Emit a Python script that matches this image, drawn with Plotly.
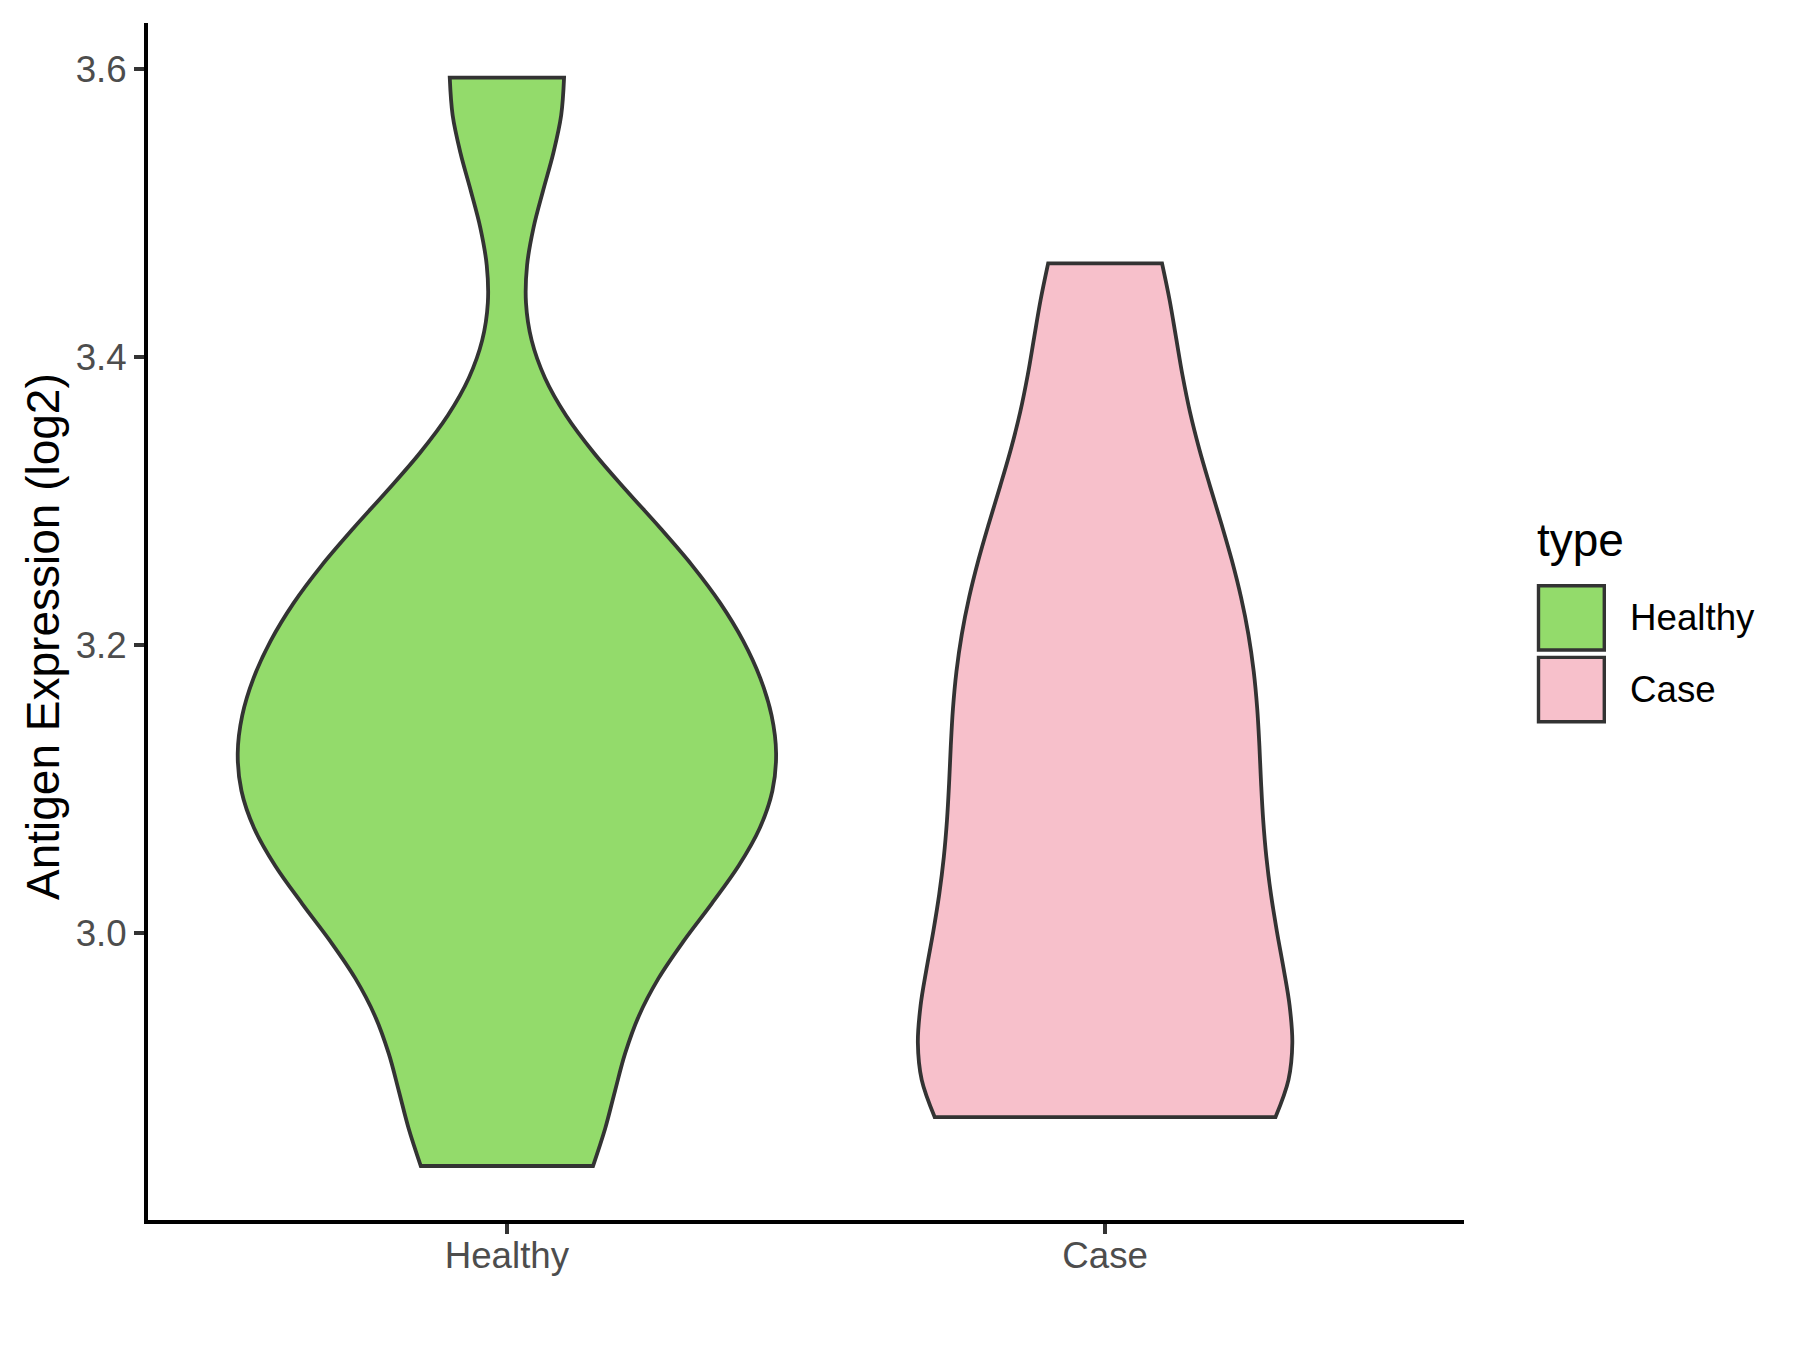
import plotly.graph_objects as go

categories = ["Healthy", "Case"]
healthy_values = [2.838, 2.864, 2.892, 3.004, 3.028, 3.03, 3.06, 3.094, 3.104, 3.11, 3.116,
                  3.146, 3.188, 3.206, 3.206, 3.258, 3.26, 3.286, 3.594, 3.594]
case_values = [2.872, 2.872, 2.872, 2.872, 2.878, 2.92, 2.982, 3.002, 3.014, 3.042, 3.106,
               3.114, 3.16, 3.186, 3.202, 3.264, 3.286, 3.326, 3.434, 3.465]
y_tick_vals = [3.0, 3.2, 3.4, 3.6]
y_tick_text = ["3.0", "3.2", "3.4", "3.6"]
legend_title = "type"
y_title = "Antigen Expression (log2)"

colors = {"Healthy": "#93DB6B", "Case": "#F7C0CB"}
widths = {"Healthy": 0.9, "Case": 0.626}
bandwidth = 0.08
FONT = "Liberation Sans, Arial, sans-serif"

OFF = 8  # default page body margin
W, H = 1800 - OFF, 1350 - OFF
L, T = 148 - OFF, 23 - OFF
R, B = 336, 130
PW, PH = W - L - R, H - T - B

def px(xpage):
    return (xpage - OFF - L) / PW

def py(ypage):
    return (H - B - (ypage - OFF)) / PH

fig = go.Figure()
for cat, vals in zip(categories, [healthy_values, case_values]):
    fig.add_trace(go.Violin(
        x=[cat] * len(vals), y=vals, name=cat, bandwidth=bandwidth, spanmode="hard",
        width=widths[cat], fillcolor=colors[cat], line=dict(color="#333333", width=3.8),
        points=False, opacity=1, hoverinfo="skip", showlegend=False,
        box_visible=False, meanline_visible=False))

shapes = []
annotations = []
# y axis title
annotations.append(dict(x=px(43), y=py(637), xref="paper", yref="paper", text=y_title,
                        textangle=-90, showarrow=False, xanchor="center", yanchor="middle",
                        font=dict(family=FONT, size=46, color="black")))
# legend
annotations.append(dict(x=px(1535), y=py(540), xref="paper", yref="paper", text=legend_title,
                        showarrow=False, xanchor="left", yanchor="middle",
                        font=dict(family=FONT, size=46, color="black")))
for i, cat in enumerate(categories):
    y0 = 585.7 + i * 71.7
    y1 = y0 + 64.3
    shapes.append(dict(type="rect", xref="paper", yref="paper", x0=px(1538.5), x1=px(1604.3),
                       y0=py(y1), y1=py(y0), fillcolor=colors[cat],
                       line=dict(color="#333333", width=3.4)))
    annotations.append(dict(x=px(1628), y=py((y0 + y1) / 2), xref="paper", yref="paper", text=cat,
                            showarrow=False, xanchor="left", yanchor="middle",
                            font=dict(family=FONT, size=36.7, color="black")))

fig.update_layout(
    width=W, height=H, autosize=False, violinmode="overlay",
    plot_bgcolor="white", paper_bgcolor="white",
    margin=dict(l=L, r=R, t=T, b=B, autoexpand=False), showlegend=False,
    shapes=shapes, annotations=annotations,
    font=dict(family=FONT),
)
fig.update_xaxes(
    type="category", categoryorder="array", categoryarray=categories,
    range=[-0.6, 1.6], showline=True, linecolor="black", linewidth=4,
    ticks="outside", ticklen=10, tickwidth=4, tickcolor="#333333",
    tickfont=dict(family=FONT, size=36.7, color="#4D4D4D"), ticklabelstandoff=-10,
    showgrid=False, zeroline=False, automargin=False,
)
fig.update_yaxes(
    range=[2.8005, 3.632], tickvals=y_tick_vals, ticktext=y_tick_text,
    showline=True, linecolor="black", linewidth=4,
    ticks="outside", ticklen=10, tickwidth=4, tickcolor="#333333",
    tickfont=dict(family=FONT, size=36.7, color="#4D4D4D"),
    showgrid=False, zeroline=False, automargin=False,
)
fig.write_html("out.html")
